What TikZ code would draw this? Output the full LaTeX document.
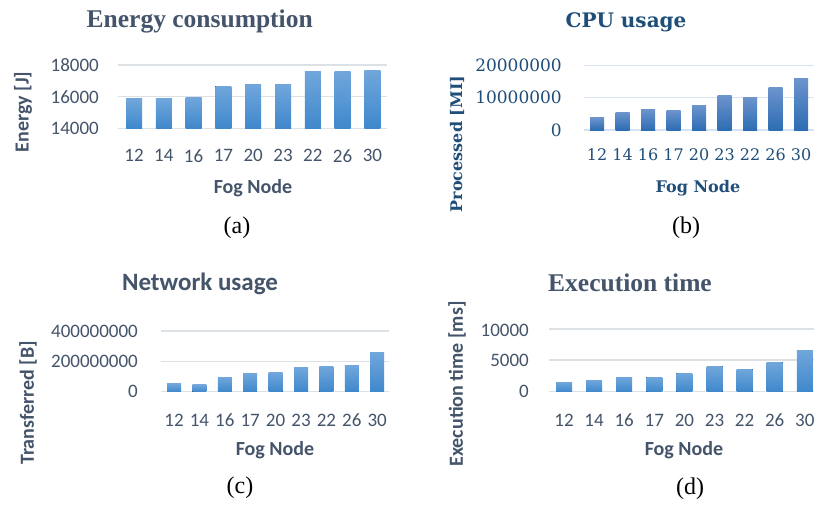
\documentclass[tikz,border=0pt]{standalone}
\usepackage{fontspec}
\setmainfont{Liberation Serif}
\newfontfamily\calib{Carlito}
\newfontfamily\dvs{DejaVu Serif}
\usetikzlibrary{shadings}
\definecolor{slate}{HTML}{44546A}
\definecolor{navy}{HTML}{1F4E79}
\definecolor{gridg}{HTML}{DCE1E6}
\definecolor{gridb}{HTML}{D5E3F2}
\definecolor{barAt}{HTML}{70A6DB}
\definecolor{barAb}{HTML}{3F88CC}
\definecolor{barBt}{HTML}{6B93CC}
\definecolor{barBb}{HTML}{2D6DB3}
\tikzset{
  gridA/.style={draw=gridg, line width=1.5pt},
  gridB/.style={draw=gridb, line width=1.5pt},
  barA/.style={top color=barAt, bottom color=barAb, draw=none},
  barB/.style={top color=barBt, bottom color=barBb, draw=none},
  tickA/.style={text=slate, inner sep=0pt, font=\calib\fontsize{19}{22}\selectfont},
  axA/.style={text=slate, inner sep=0pt, font=\calib\bfseries\fontsize{20}{24}\selectfont},
  titleSerif/.style={text=slate, inner sep=0pt, font=\bfseries\fontsize{25.5}{30}\selectfont},
  titleSans/.style={text=slate, inner sep=0pt, font=\calib\bfseries\fontsize{25}{30}\selectfont},
  tickB/.style={text=navy, inner sep=0pt, font=\dvs\fontsize{17}{20}\selectfont},
  xtickB/.style={text=navy, inner sep=0pt, font=\dvs\fontsize{16}{20}\selectfont},
  axB/.style={text=navy, inner sep=0pt, font=\dvs\bfseries\fontsize{16}{20}\selectfont},
  titleB/.style={text=navy, inner sep=0pt, font=\dvs\bfseries\fontsize{20}{24}\selectfont},
  capt/.style={text=black, inner sep=0pt, font=\fontsize{24}{28}\selectfont},
}
\begin{document}
\begin{tikzpicture}[x=1pt,y=-1pt]
\useasboundingbox (0,0) rectangle (814,506);
\fill[white] (0,0) rectangle (814,506);

% ---------------- (a) Energy consumption ----------------
\foreach \y in {65,96.7,128.3} \draw[gridA] (118,\y) -- (387,\y);
\node[tickA, anchor=east] (a-y1) at (99,65) {18000};
\node[tickA, anchor=east] (a-y2) at (99,96.7) {16000};
\node[tickA, anchor=east] (a-y3) at (99,128.3) {14000};
% values given as (energy - 14000)
\foreach \v/\l [count=\i from 0] in {1850/12,1850/14,1930/16,2670/17,2740/20,2740/23,3560/22,3560/26,3620/30}{
  \pgfmathsetmacro\cx{134+29.8*\i}
  \pgfmathsetmacro\ty{128.3-\v*0.015833}
  \fill[barA] (\cx-8,\ty) rectangle (\cx+8,128.3);
  \node[tickA] (a-x\i) at (\cx,155.7) {\l};
}
\node[titleSerif] (a-title) at (199.7,21) {Energy consumption};
\node[axA, rotate=90] (a-ylab) at (23,112) {Energy [J]};
\node[axA] (a-xlab) at (253,188) {Fog Node};
\node[capt] (a-cap) at (237,228) {(a)};

% ---------------- (b) CPU usage ----------------
\foreach \y in {65.7,97.7,130} \draw[gridB] (584,\y) -- (814,\y);
\node[tickB, anchor=east] (b-y1) at (562,65.7) {20000000};
\node[tickB, anchor=east] (b-y2) at (562,97.7) {10000000};
\node[tickB, anchor=east] (b-y3) at (562,130) {0};
\foreach \v/\l [count=\i from 0] in {3.8/12,5.4/14,6.3/16,6.0/17,7.5/20,10.6/23,10.0/22,13.1/26,15.9/30}{
  \pgfmathsetmacro\cx{597+25.5*\i}
  \pgfmathsetmacro\ty{130-\v*3.215}
  \fill[barB] (\cx-7,\ty) rectangle (\cx+7,130);
  \node[xtickB] (b-x\i) at (\cx,155) {\l};
}
\node[titleB] (b-title) at (626,22) {CPU usage};
\node[axB, rotate=90] (b-ylab) at (457,144) {Processed [MI]};
\node[axB] (b-xlab) at (698,188) {Fog Node};
\node[capt] (b-cap) at (686,228) {(b)};

% ---------------- (c) Network usage ----------------
\foreach \y in {331,361.7,391.7} \draw[gridA] (161,\y) -- (389,\y);
\node[tickA, anchor=east] (c-y1) at (138,331) {400000000};
\node[tickA, anchor=east] (c-y2) at (138,361.7) {200000000};
\node[tickA, anchor=east] (c-y3) at (138,391.7) {0};
\foreach \v/\l [count=\i from 0] in {51/12,45/14,93/16,118/17,125/20,158/23,165/22,171/26,258/30}{
  \pgfmathsetmacro\cx{174+25.4*\i}
  \pgfmathsetmacro\ty{391.7-\v*0.15175}
  \fill[barA] (\cx-7,\ty) rectangle (\cx+7,391.7);
  \node[tickA] (c-x\i) at (\cx,420) {\l};
}
\node[titleSans] (c-title) at (200,284) {Network usage};
\node[axA, rotate=90] (c-ylab) at (28,403) {Transferred [B]};
\node[axA] (c-xlab) at (275,450) {Fog Node};
\node[capt] (c-cap) at (240,488) {(c)};

% ---------------- (d) Execution time ----------------
\foreach \y in {329,360,391.7} \draw[gridA] (549,\y) -- (814,\y);
\node[tickA, anchor=east] (d-y1) at (529,330) {10000};
\node[tickA, anchor=east] (d-y2) at (529,360) {5000};
\node[tickA, anchor=east] (d-y3) at (529,391.7) {0};
\foreach \v/\l [count=\i from 0] in {1530/12,1845/14,2320/16,2320/17,2950/20,4050/23,3580/22,4685/26,6580/30}{
  \pgfmathsetmacro\cx{564+30.1*\i}
  \pgfmathsetmacro\ty{391.7-\v*0.00627}
  \fill[barA] (\cx-8,\ty) rectangle (\cx+8,391.7);
  \node[tickA] (d-x\i) at (\cx,420) {\l};
}
\node[titleSerif] (d-title) at (630,283) {Execution time};
\node[axA, rotate=90] (d-ylab) at (457,384) {Execution time [ms]};
\node[axA] (d-xlab) at (684,450) {Fog Node};
\node[capt] (d-cap) at (690,489) {(d)};
\end{tikzpicture}
\end{document}
